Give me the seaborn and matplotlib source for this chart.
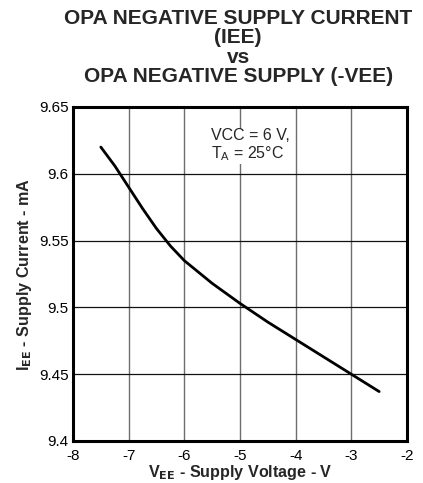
import matplotlib
matplotlib.use("Agg")
import matplotlib.pyplot as plt
import numpy as np
import pandas as pd
import seaborn as sns

VEE = [-7.5, -7.25, -7.0, -6.75, -6.5, -6.25, -6.0, -5.5, -5.0, -4.5, -4.0, -3.5, -3.0, -2.5]
IEE = [9.620, 9.606, 9.590, 9.574, 9.559, 9.546, 9.535, 9.518, 9.503, 9.489, 9.476, 9.463, 9.450, 9.437]
X_TICKS = [-8, -7, -6, -5, -4, -3, -2]
Y_TICKS = [9.4, 9.45, 9.5, 9.55, 9.6, 9.65]
Y_TICK_LABELS = ["9.4", "9.45", "9.5", "9.55", "9.6", "9.65"]

sns.set_style("white")
plt.rcParams["font.family"] = ["Liberation Sans", "DejaVu Sans"]

df = pd.DataFrame({"vee": VEE, "iee": IEE})

fig = plt.figure(figsize=(4.23, 4.83), dpi=100)
ax = fig.add_axes([73 / 423, 1 - 441 / 483, 334 / 423, 334 / 483])

sns.lineplot(data=df, x="vee", y="iee", color="black", linewidth=2.0, ax=ax)

ax.set_xlim(-8, -2)
ax.set_ylim(9.4, 9.65)
ax.set_xticks(X_TICKS)
ax.set_xticklabels([str(t) for t in X_TICKS])
ax.set_yticks(Y_TICKS)
ax.set_yticklabels(Y_TICK_LABELS)
ax.tick_params(axis="both", length=0, labelsize=11, colors="black")
ax.tick_params(axis="x", pad=6)
ax.tick_params(axis="y", pad=3)
ax.xaxis.grid(True, color="#6e6e6e", linewidth=1.0)
ax.yaxis.grid(True, color="#111111", linewidth=0.9)
for spine in ax.spines.values():
    spine.set_visible(True)
    spine.set_color("black")
    spine.set_linewidth(2.2)

ax.set_xlabel(r"V$_{\mathbf{EE}}$ - Supply Voltage - V", fontsize=11.6, fontweight="bold", labelpad=0)
ax.set_ylabel(r"I$_{\mathbf{EE}}$ - Supply Current - mA", fontsize=11.6, fontweight="bold", labelpad=4)

ax.text(-5.52, 9.634, "VCC = 6 V,\n" + r"T$_\mathregular{A}$ = 25°C", fontsize=11.5,
        ha="left", va="top", linespacing=1.05,
        bbox=dict(facecolor="white", edgecolor="none", pad=1.0))

fig.text(0.563, 0.981, "OPA NEGATIVE SUPPLY CURRENT\n(IEE)\nvs\nOPA NEGATIVE SUPPLY (-VEE)",
         ha="center", va="top", fontsize=15, fontweight="bold", linespacing=1.02)

fig.savefig("out.png", dpi=100)
